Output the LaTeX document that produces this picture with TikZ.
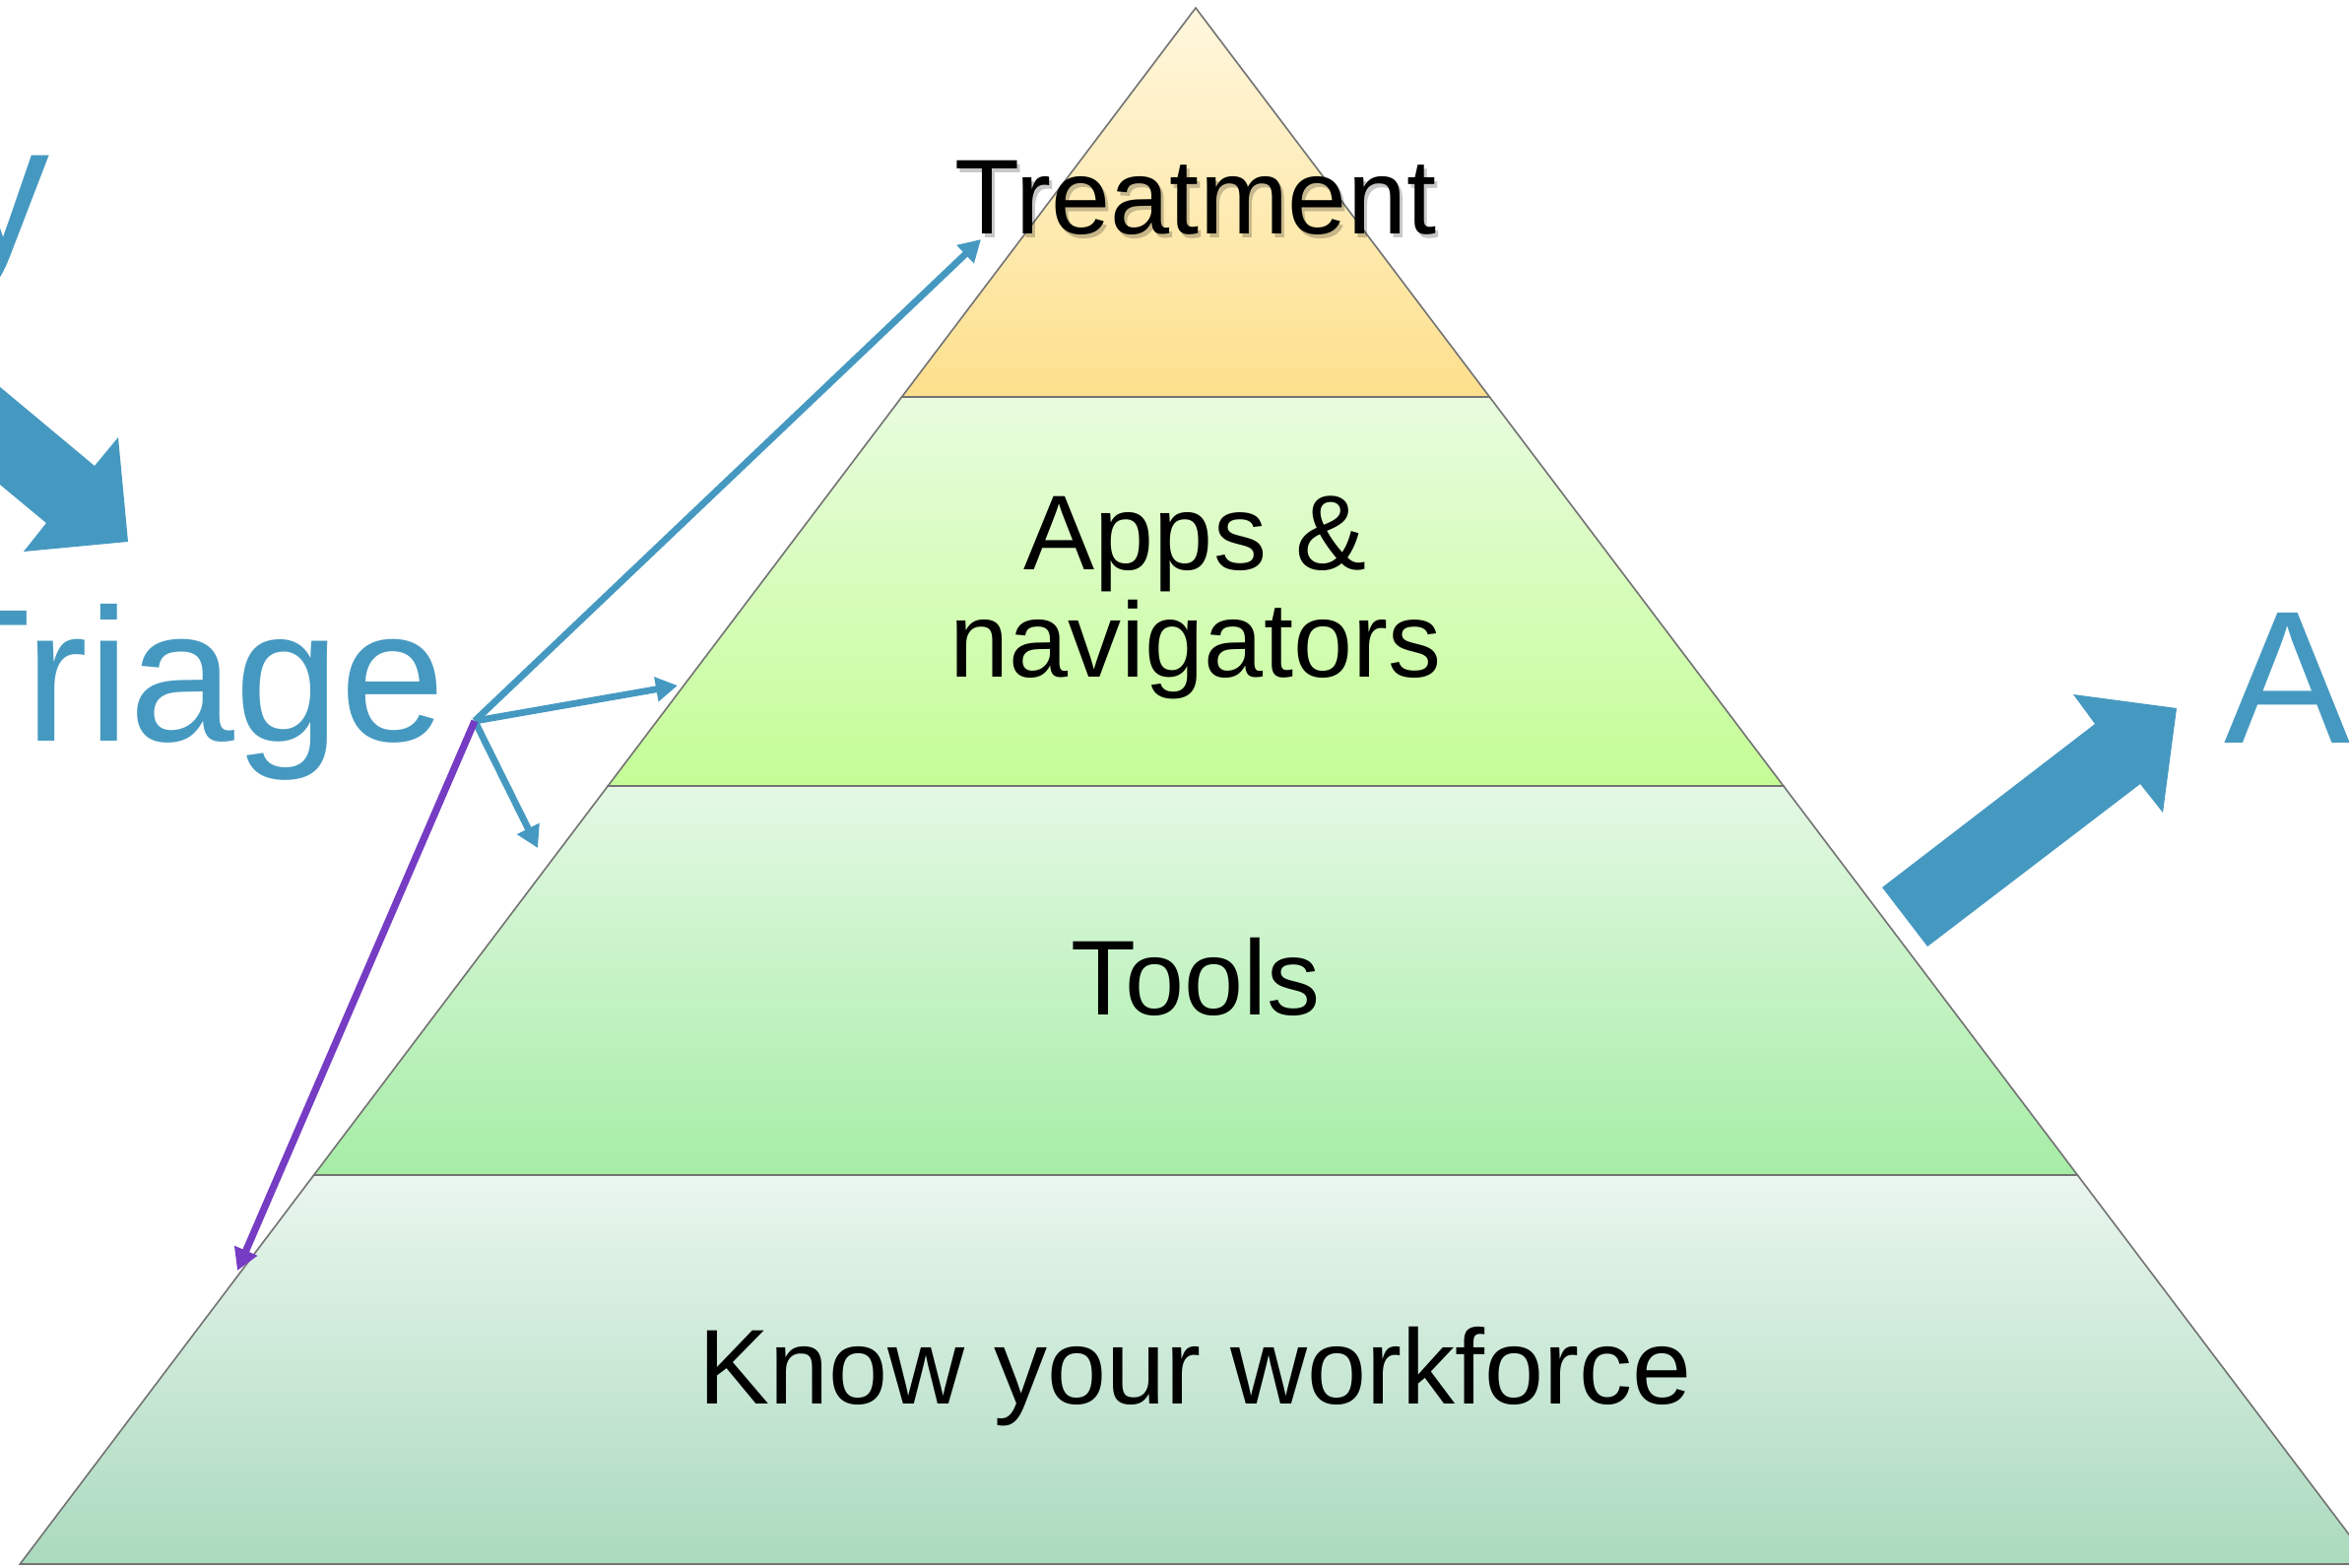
\documentclass[tikz,border=0pt]{standalone}
\usepackage{fontspec}
\setmainfont{Liberation Sans}
\usetikzlibrary{arrows.meta}
\definecolor{tblue}{RGB}{69,153,193}
\definecolor{tpurple}{RGB}{118,60,196}
\definecolor{edgegray}{RGB}{115,115,115}
\definecolor{trA}{RGB}{255,247,222}
\definecolor{trB}{RGB}{253,224,140}
\definecolor{apA}{RGB}{232,252,222}
\definecolor{apB}{RGB}{196,253,150}
\definecolor{toA}{RGB}{228,248,228}
\definecolor{toB}{RGB}{166,237,166}
\definecolor{kwA}{RGB}{234,246,238}
\definecolor{kwB}{RGB}{170,218,190}
\begin{document}
\begin{tikzpicture}[x=0.5pt,y=-0.5pt,
  layer/.style={draw=edgegray, line width=0.8pt},
  lbl/.style={inner sep=0pt, outer sep=0pt, font=\fontsize{54pt}{60pt}\selectfont, text=black},
  shadowlbl/.style={lbl, text=black, opacity=0.22},
  biglbl/.style={inner sep=0pt, outer sep=0pt, font=\fontsize{96pt}{110pt}\selectfont, text=tblue},
  thinarrow/.style={draw=tblue, line width=3.4pt, -{Triangle[length=11pt,width=12pt]}},
  purplearrow/.style={draw=tpurple, line width=3.6pt, -{Triangle[length=11pt,width=12pt]}},
  bigarrow/.style={fill=tblue, draw=none}]
\useasboundingbox (0,0) rectangle (2385,1591);
\clip (0,0) rectangle (2385,1591);
\fill[white] (0,0) rectangle (2385,1591);
% pyramid layers
\shadedraw[layer, top color=kwA, bottom color=kwB] (318.7,1193) -- (2109.3,1193) -- (2407.7,1588) -- (20.3,1588) -- cycle;
\shadedraw[layer, top color=toA, bottom color=toB] (617.2,798) -- (1810.8,798) -- (2109.3,1193) -- (318.7,1193) -- cycle;
\shadedraw[layer, top color=apA, bottom color=apB] (915.6,403) -- (1512.4,403) -- (1810.8,798) -- (617.2,798) -- cycle;
\shadedraw[layer, top color=trA, bottom color=trB] (1214,8) -- (1512.4,403) -- (915.6,403) -- cycle;
% labels
\node[shadowlbl, anchor=base] (treatshadow) at (1217,241) {Treatment};
\node[lbl, anchor=base] (treat) at (1214,237) {Treatment};
\node[lbl, anchor=base] (apps) at (1214,578) {Apps \&};
\node[lbl, anchor=base] (nav) at (1214,687) {navigators};
\node[lbl, anchor=base] (tools) at (1214,1030) {Tools};
\node[lbl, anchor=base] (know) at (1214,1425) {Know your workforce};
% big blue words
\node[biglbl, anchor=base west] (yword) at (-45,259) {y};
\node[biglbl, anchor=base west] (triage) at (-85,752) {Triage};
\node[biglbl, anchor=base west] (aword) at (2258,754) {A};
% big block arrows
\fill[tblue] (-200,226) -- (96,473) -- (120,444) -- (130,550) -- (24,560) -- (47,531) -- (-200,326) -- cycle;
\fill[tblue] (1911,901) -- (2127,735) -- (2105,705) -- (2210,719) -- (2196,825) -- (2173,796) -- (1957,961) -- cycle;
% thin arrows
\coordinate (hub) at (482,732);
\coordinate (tipTreat) at (996,243);
\coordinate (tipApps) at (688,696);
\coordinate (tipTools) at (546,861);
\coordinate (tipKnow) at (241,1290);
\draw[thinarrow] (hub) -- (tipTreat);
\draw[thinarrow] (hub) -- (tipApps);
\draw[thinarrow] (hub) -- (tipTools);
\draw[purplearrow] (hub) -- (tipKnow);
\end{tikzpicture}
\end{document}
